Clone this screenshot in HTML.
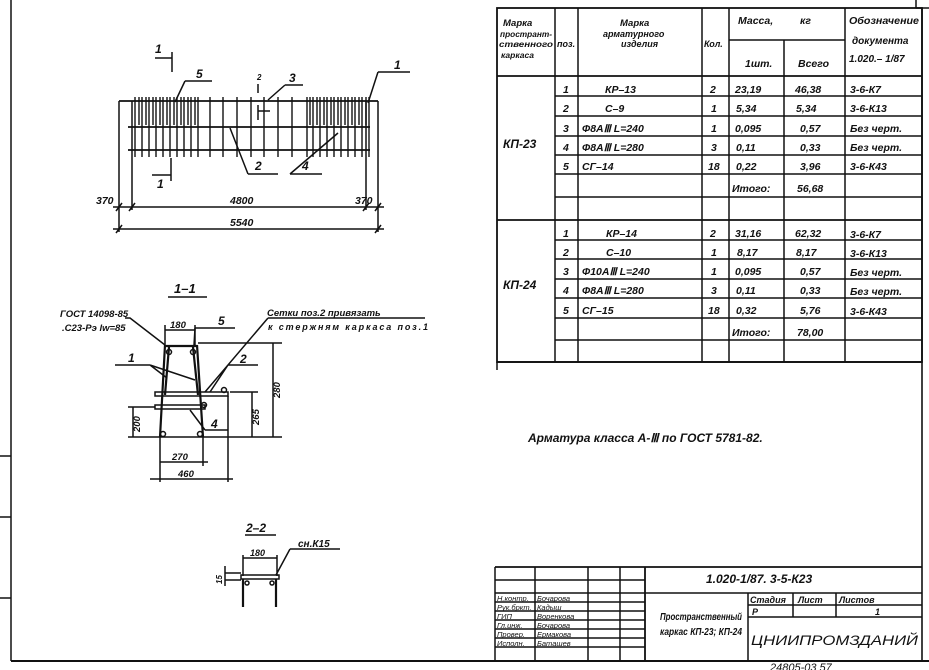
<!DOCTYPE html>
<html><head><meta charset="utf-8"><style>
html,body{margin:0;padding:0;background:#fff}
svg{display:block}
text{font-family:"Liberation Sans",sans-serif;font-style:italic;fill:#111}
</style></head><body>
<svg width="929" height="670" viewBox="0 0 929 670" xmlns="http://www.w3.org/2000/svg">
<g stroke="#111" stroke-width="1.5" fill="none">
<line x1="11" y1="0" x2="11" y2="661"/>
<line x1="11" y1="661" x2="929" y2="661" stroke-width="2"/>
<line x1="922" y1="8" x2="922" y2="661" stroke-width="1.6"/>
<line x1="916" y1="0" x2="916" y2="8"/><line x1="916" y1="8" x2="929" y2="8"/>
<line x1="0" y1="456" x2="11" y2="456"/><line x1="0" y1="517" x2="11" y2="517"/><line x1="0" y1="598" x2="11" y2="598"/>

<rect x="497" y="8" width="425" height="354" stroke-width="1.8"/>
<line x1="497" y1="76" x2="922" y2="76" stroke-width="1.8"/>
<line x1="497" y1="220" x2="922" y2="220" stroke-width="1.8"/>
<line x1="497" y1="362" x2="922" y2="362" stroke-width="1.8"/>
<line x1="497" y1="362" x2="497" y2="370"/>
<line x1="555" y1="8" x2="555" y2="362"/>
<line x1="578" y1="8" x2="578" y2="362"/>
<line x1="702" y1="8" x2="702" y2="362"/>
<line x1="729" y1="8" x2="729" y2="362"/>
<line x1="784" y1="40" x2="784" y2="362"/>
<line x1="845" y1="8" x2="845" y2="362"/>
<line x1="729" y1="40" x2="845" y2="40"/>
<path d="M555 96H922M555 116H922M555 136H922M555 155H922M555 174H922M555 197H922
M555 240H922M555 259H922M555 279H922M555 298H922M555 318H922M555 340H922"/>

<line x1="495" y1="567" x2="922" y2="567" stroke-width="1.8"/>
<line x1="495" y1="567" x2="495" y2="661"/>
<line x1="535" y1="567" x2="535" y2="661"/>
<line x1="588" y1="567" x2="588" y2="661"/>
<line x1="620" y1="567" x2="620" y2="661"/>
<line x1="645" y1="567" x2="645" y2="661" stroke-width="1.8"/>
<path d="M495 580H645M495 593H922M495 602H645M495 611H645M495 620H645M495 629H645M495 638H645M495 647H645"/>
<line x1="748" y1="593" x2="748" y2="661"/>
<line x1="793" y1="593" x2="793" y2="617"/>
<line x1="836" y1="593" x2="836" y2="617"/>
<path d="M748 605H922M748 617H922"/>

<line x1="119" y1="101" x2="378" y2="101" stroke-width="1.7"/>
<line x1="128" y1="127" x2="370" y2="127" stroke-width="1.7"/>
<line x1="128" y1="150" x2="370" y2="150" stroke-width="1.7"/>
<line x1="119" y1="101" x2="119" y2="232"/>
<line x1="378" y1="101" x2="378" y2="232"/>
<line x1="132" y1="101" x2="132" y2="210"/>
<line x1="366" y1="101" x2="366" y2="210"/>
<path stroke-width="1.4" d="M135 97V157M139 97V125M142 97V157M146 97V125M149 97V157M153 97V125M156 97V157M160 97V125M163 97V157M167 97V125M170 97V157M174 97V125M177 97V157M181 97V125M184 97V157M188 97V125M191 97V157M195 97V125M198 97V157
M210 97V157M223 97V157M237 97V157M251 97V157M264 97V157M278 97V157M292 97V157
M307 97V157M310 97V125M313 97V157M317 97V125M320 97V157M324 97V125M327 97V157M331 97V125M334 97V157M338 97V125M341 97V157M345 97V125M348 97V157M352 97V125M355 97V157M359 97V125M362 97V157M366 97V125M369 97V157"/>
<line x1="113" y1="207" x2="384" y2="207"/>
<line x1="113" y1="229" x2="384" y2="229"/>
<path d="M116 211L122 203M129 211L135 203M363 211L369 203M375 211L381 203M116 233L122 225M375 233L381 225"/>
<path d="M155 58H172M172 52V72M152 175H171M171 158V181M258 84V93M258 111H270M258 105V120"/>
<path d="M185 81H212M185 81L175 102M285 85H303M285 85L268 100M378 72H410M378 72L368 103M248 174H278M248 174L230 128M290 174H322M290 174L338 133"/>
<line x1="168" y1="297" x2="207" y2="297"/>
<path stroke-width="2.2" d="M165 345L160 437M197 345L203 437M165 346H197M169 347L165 395M193 347L198 395"/>
<rect x="155" y="392" width="73" height="4" stroke-width="1.5"/>
<rect x="155" y="405" width="50" height="4" stroke-width="1.5"/>
<circle cx="169" cy="352" r="2.5"/><circle cx="193" cy="352" r="2.5"/>
<circle cx="163" cy="434" r="2.5"/><circle cx="200" cy="434" r="2.5"/>
<circle cx="224" cy="390" r="2.5"/><circle cx="204" cy="405" r="2.5"/>
<path d="M165 330H195M165 325V345M195 325V345M198 343H282M273 343V437M252 392V437M230 392H258M133 407V437M128 407H155M128 437H282M160 437V482M203 437V466M228 396V482M160 462H208M150 479H233"/>
<path d="M125 318H130L165 345M195 328H235M195 328L194 345M268 318H425M268 318L205 392M115 365H150M150 365L167 378M150 365L195 380M228 365H258M228 365L210 392M205 430H228M190 410L205 430"/>
<line x1="245" y1="535" x2="276" y2="535"/>
<path d="M290 549H340M290 549L276 575M243 558H277M243 555V576M277 555V576M225 573H241M225 580H241M225 566V586"/>
<rect x="241" y="575" width="38" height="4" stroke-width="1.5"/>
<path stroke-width="2.2" d="M243 579V607M276 579V607"/>
<circle cx="247" cy="583" r="2"/><circle cx="272" cy="583" r="2"/>
</g>

<g font-size="10.5" font-weight="bold">
<text x="503" y="26" font-size="9.5">Марка</text>
<text x="500" y="37" font-size="8.5" textLength="52" lengthAdjust="spacingAndGlyphs">пространт-</text>
<text x="499" y="47" font-size="8.5" textLength="54" lengthAdjust="spacingAndGlyphs">ственного</text>
<text x="501" y="58" font-size="8.5">каркаса</text>
<text x="557" y="47" font-size="9">поз.</text>
<text x="620" y="26" font-size="9.5">Марка</text>
<text x="603" y="37" font-size="9">арматурного</text>
<text x="621" y="47" font-size="9">изделия</text>
<text x="704" y="47" font-size="9">Кол.</text>
<text x="738" y="24">Масса,</text><text x="800" y="24">кг</text>
<text x="745" y="67">1шт.</text><text x="798" y="67">Всего</text>
<text x="849" y="24" font-size="10" textLength="70" lengthAdjust="spacingAndGlyphs">Обозначение</text>
<text x="852" y="44" font-size="10">документа</text>
<text x="849" y="62" font-size="10">1.020.– 1/87</text>

<text x="503" y="148" font-size="12">КП-23</text>
<text x="503" y="289" font-size="12">КП-24</text>
<text x="563" y="93">1</text><text x="605" y="93">КР–13</text><text x="710" y="93">2</text><text x="735" y="93">23,19</text><text x="795" y="93">46,38</text><text x="850" y="93">3-6-К7</text>
<text x="563" y="112">2</text><text x="605" y="112">С–9</text><text x="711" y="112">1</text><text x="736" y="112">5,34</text><text x="796" y="112">5,34</text><text x="850" y="112">3-6-К13</text>
<text x="563" y="132">3</text><text x="582" y="132">Ф8АⅢ  L=240</text><text x="711" y="132">1</text><text x="735" y="132">0,095</text><text x="800" y="132">0,57</text><text x="850" y="132">Без черт.</text>
<text x="563" y="151">4</text><text x="582" y="151">Ф8АⅢ  L=280</text><text x="711" y="151">3</text><text x="736" y="151">0,11</text><text x="800" y="151">0,33</text><text x="850" y="151">Без черт.</text>
<text x="563" y="170">5</text><text x="582" y="170">СГ–14</text><text x="708" y="170">18</text><text x="736" y="170">0,22</text><text x="800" y="170">3,96</text><text x="850" y="170">3-6-К43</text>
<text x="732" y="192">Итого:</text><text x="797" y="192">56,68</text>
<text x="563" y="237">1</text><text x="606" y="237">КР–14</text><text x="710" y="237">2</text><text x="735" y="237">31,16</text><text x="795" y="237">62,32</text><text x="850" y="238">3-6-К7</text>
<text x="563" y="256">2</text><text x="606" y="256">С–10</text><text x="711" y="256">1</text><text x="737" y="256">8,17</text><text x="796" y="256">8,17</text><text x="850" y="257">3-6-К13</text>
<text x="563" y="275">3</text><text x="582" y="275">Ф10АⅢ  L=240</text><text x="711" y="275">1</text><text x="735" y="275">0,095</text><text x="800" y="275">0,57</text><text x="850" y="276">Без черт.</text>
<text x="563" y="294">4</text><text x="582" y="294">Ф8АⅢ  L=280</text><text x="711" y="294">3</text><text x="736" y="294">0,11</text><text x="800" y="294">0,33</text><text x="850" y="295">Без черт.</text>
<text x="563" y="314">5</text><text x="582" y="314">СГ–15</text><text x="708" y="314">18</text><text x="736" y="314">0,32</text><text x="800" y="314">5,76</text><text x="850" y="315">3-6-К43</text>
<text x="732" y="336">Итого:</text><text x="797" y="336">78,00</text>

<text x="528" y="442" font-size="12">Арматура  класса  А-Ⅲ по ГОСТ 5781-82.</text>

<text x="706" y="583" font-size="12">1.020-1/87. 3-5-К23</text>
<text x="660" y="620" font-size="10" textLength="82" lengthAdjust="spacingAndGlyphs">Пространственный</text>
<text x="660" y="635" font-size="10" textLength="82" lengthAdjust="spacingAndGlyphs">каркас  КП-23; КП-24</text>
<text x="750" y="603" font-size="9">Стадия</text><text x="798" y="603" font-size="9">Лист</text><text x="839" y="603" font-size="9">Листов</text>
<text x="752" y="615" font-size="9">Р</text><text x="875" y="615" font-size="9">1</text>
<text x="751" y="645" font-size="14" font-style="normal" font-weight="normal" textLength="167" lengthAdjust="spacingAndGlyphs">ЦНИИПРОМЗДАНИЙ</text>
<g font-size="7.5" font-weight="normal">
<text x="497" y="601">Н.контр.</text><text x="537" y="601">Бочарова</text>
<text x="497" y="610">Рук.бркт.</text><text x="537" y="610">Кадыш</text>
<text x="497" y="619">ГИП</text><text x="537" y="619">Воренкова</text>
<text x="497" y="628">Гл.инж.</text><text x="537" y="628">Бочарова</text>
<text x="497" y="637">Провер.</text><text x="537" y="637">Ермакова</text>
<text x="497" y="646">Исполн.</text><text x="537" y="646">Баташев</text>
</g>
<text x="770" y="671" font-size="11" font-weight="normal">24805-03     57</text>

<text x="155" y="53" font-size="12">1</text>
<text x="157" y="188" font-size="12">1</text>
<text x="196" y="78" font-size="12">5</text>
<text x="289" y="82" font-size="12">3</text>
<text x="394" y="69" font-size="12">1</text>
<text x="257" y="80" font-size="8">2</text>
<text x="255" y="170" font-size="12">2</text>
<text x="302" y="170" font-size="12">4</text>
<text x="96" y="204">370</text>
<text x="230" y="204">4800</text>
<text x="355" y="204">370</text>
<text x="230" y="226">5540</text>

<text x="174" y="293" font-size="13">1–1</text>
<text x="60" y="317" font-size="9.5">ГОСТ 14098-85</text>
<text x="62" y="331" font-size="9.5">.С23-Рэ lw=85</text>
<text x="170" y="328" font-size="9.5">180</text>
<text x="218" y="325" font-size="12">5</text>
<text x="267" y="316" font-size="9.5">Сетки поз.2 привязать</text>
<text x="268" y="330" font-size="9" textLength="160" lengthAdjust="spacing">к стержням  каркаса   поз.1</text>
<text x="128" y="362" font-size="12">1</text>
<text x="240" y="363" font-size="12">2</text>
<text x="211" y="428" font-size="12">4</text>
<text x="172" y="460" font-size="9.5">270</text>
<text x="178" y="477" font-size="9.5">460</text>
<text x="280" y="398" font-size="9.5" transform="rotate(-90 280 398)">280</text>
<text x="259" y="425" font-size="9.5" transform="rotate(-90 259 425)">265</text>
<text x="140" y="432" font-size="9.5" transform="rotate(-90 140 432)">200</text>

<text x="246" y="532" font-size="12">2–2</text>
<text x="298" y="547" font-size="10">сн.К15</text>
<text x="250" y="556" font-size="9">180</text>
<text x="222" y="584" font-size="8" transform="rotate(-90 222 584)">15</text>
</g>
</svg>
</body></html>
